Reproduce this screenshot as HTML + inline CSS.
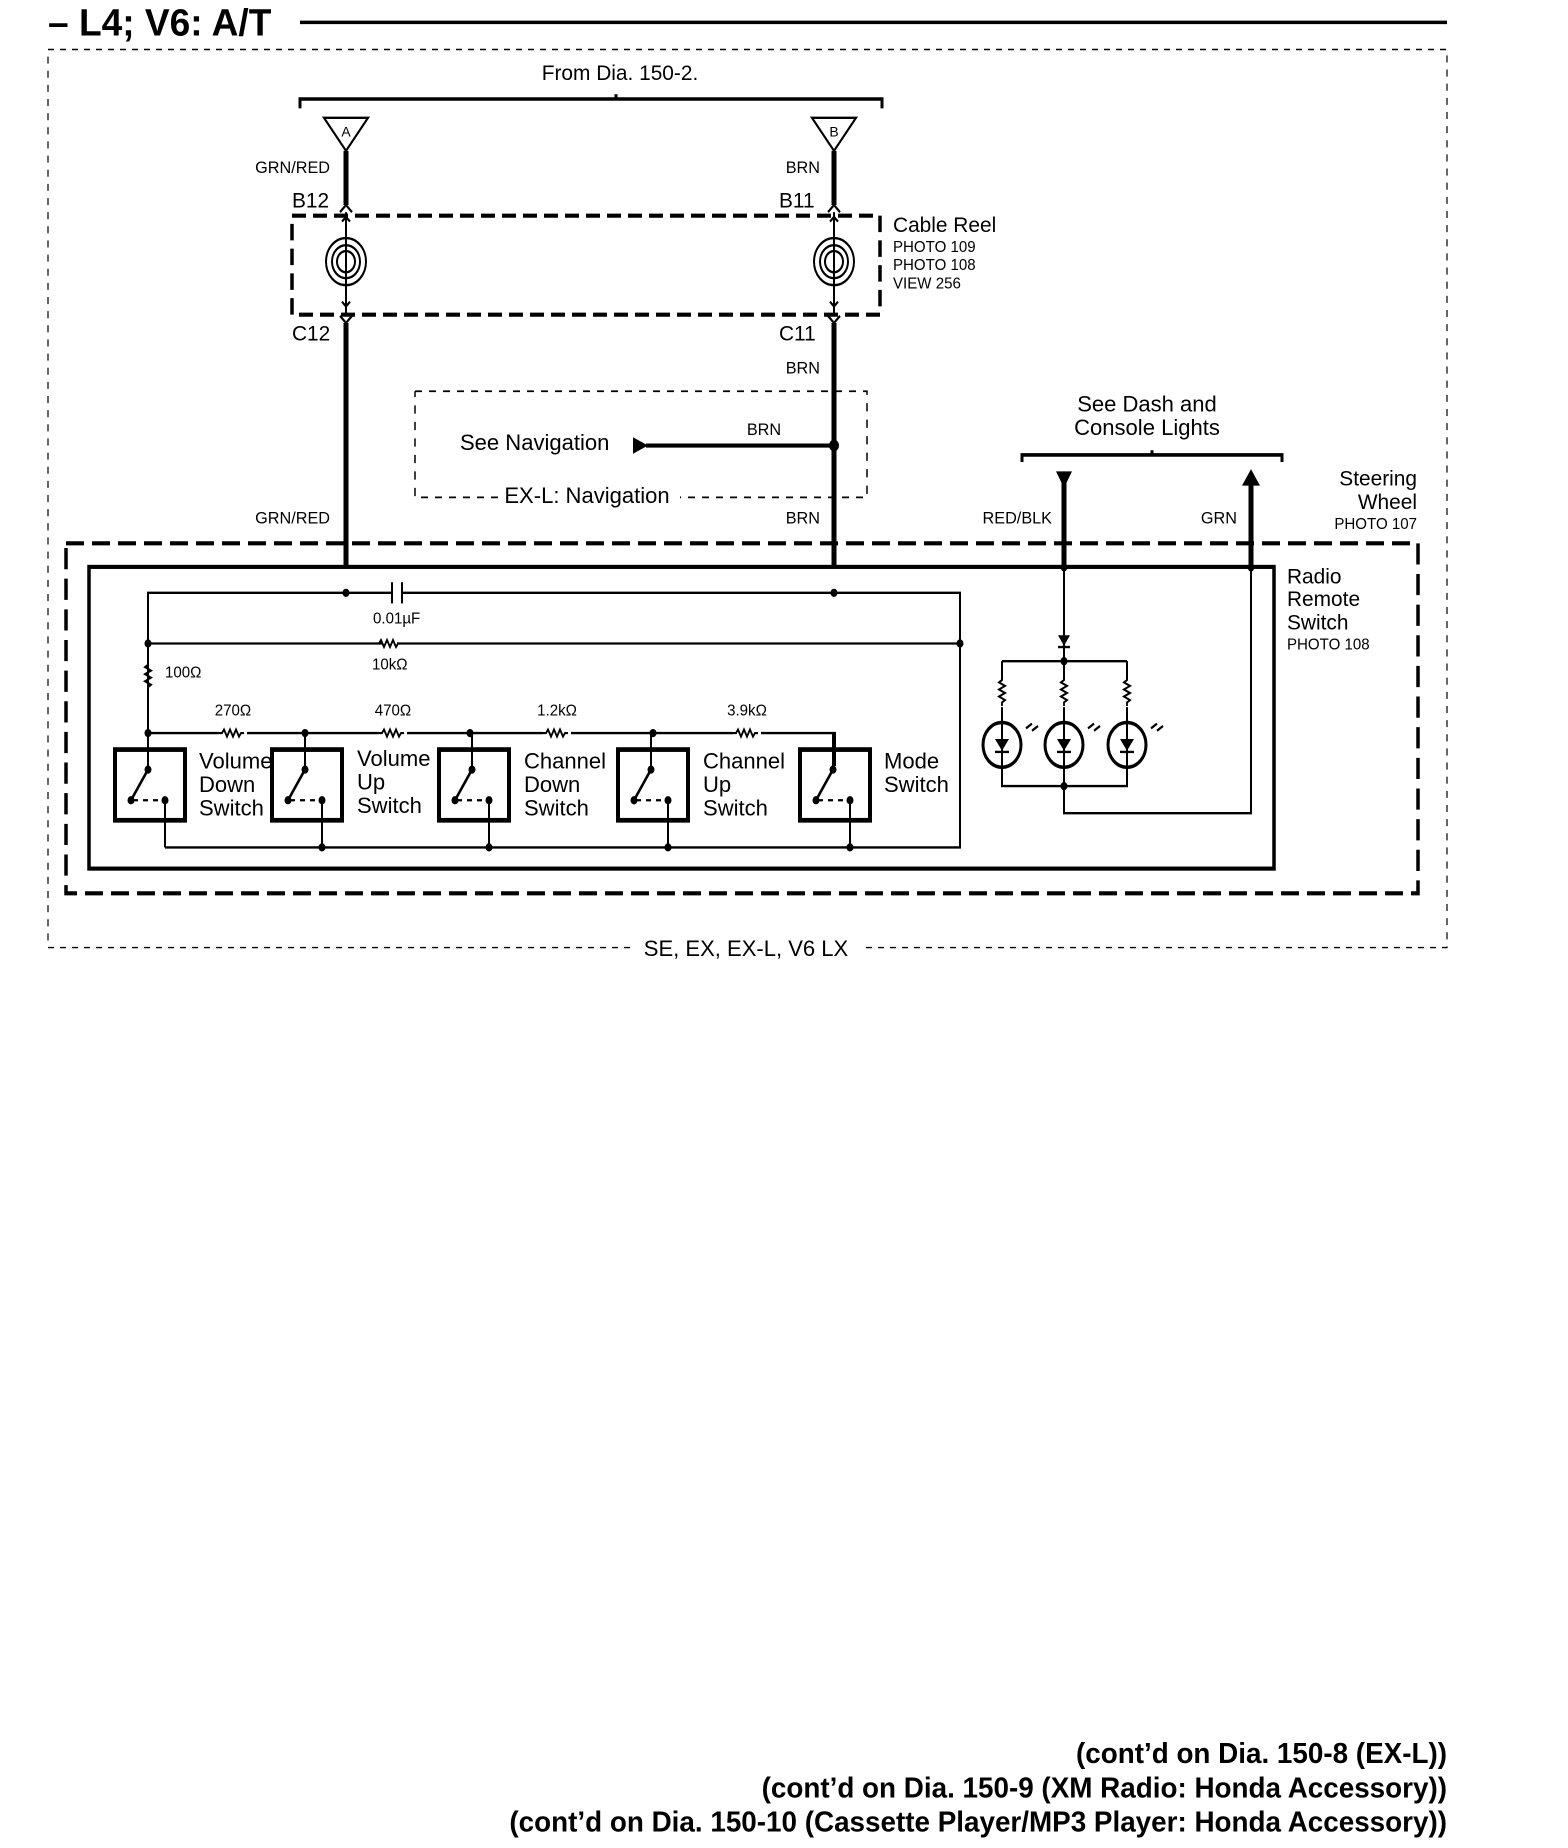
<!DOCTYPE html>
<html><head><meta charset="utf-8"><style>
html,body{margin:0;padding:0;background:#fff}
svg{display:block}
text{font-family:"Liberation Sans",Arial,sans-serif;fill:#000}
</style></head><body>
<svg id="s" width="1568" height="1848" viewBox="0 0 1568 1568" preserveAspectRatio="none" xmlns="http://www.w3.org/2000/svg">
<defs>
<g id="sw">
<rect x="0" y="0" width="70" height="60" fill="none" stroke="#000" stroke-width="4"/>
<line x1="33" y1="-14" x2="33" y2="17" stroke="#000" stroke-width="2"/>
<line x1="33" y1="17" x2="16" y2="43" stroke="#000" stroke-width="2.5"/>
<line x1="18" y1="43" x2="50" y2="43" stroke="#000" stroke-width="2" stroke-dasharray="5,5"/>
<circle cx="33" cy="17" r="3.5"/><circle cx="16" cy="43" r="3.5"/><circle cx="50" cy="43" r="3.5"/>
<line x1="50" y1="43" x2="50" y2="83" stroke="#000" stroke-width="2"/>
</g>
<g id="resH"><path d="M-14,0 h3 l2,-3 l3,6 l3,-6 l3,6 l3,-6 l3,6 l2,-3 h3" fill="none" stroke="#000" stroke-width="1.8"/></g>
<g id="resV"><path d="M0,-14 v3 l-3,2 l6,3 l-6,3 l6,3 l-6,3 l6,3 l-3,2 v3" fill="none" stroke="#000" stroke-width="1.8"/></g>
<g id="led">
<circle cx="0" cy="0" r="19" fill="none" stroke="#000" stroke-width="3"/>
<line x1="0" y1="-19" x2="0" y2="19" stroke="#000" stroke-width="2"/>
<path d="M-7,-5 h14 l-7,10 z"/><line x1="-7" y1="6" x2="7" y2="6" stroke="#000" stroke-width="2"/>
<path d="M24,-14 l6,-4 M30,-12 l6,-4" stroke="#000" stroke-width="2"/>
</g>
</defs>

<text x="48" y="30" font-size="32" font-weight="bold">– L4; V6: A/T</text>
<line x1="300" y1="19" x2="1447" y2="19" stroke="#000" stroke-width="3"/>

<path d="M48,42 H1447 V804 H862 M630,804 H48 V42" fill="none" stroke="#000" stroke-width="1.2" stroke-dasharray="6,6"/>
<text x="746" y="811" font-size="19" text-anchor="middle">SE, EX, EX-L, V6 LX</text>

<text x="620" y="68" font-size="18" text-anchor="middle">From Dia. 150-2.</text>
<path d="M300,92 V84 H882 V92 M616,84 V80" fill="none" stroke="#000" stroke-width="3"/>
<path d="M324,100 H368 L346,128 Z" fill="none" stroke="#000" stroke-width="2"/>
<text x="346" y="116" font-size="12" text-anchor="middle">A</text>
<path d="M812,100 H856 L834,128 Z" fill="none" stroke="#000" stroke-width="2"/>
<text x="834" y="116" font-size="12" text-anchor="middle">B</text>
<text x="330" y="147" font-size="14" text-anchor="end">GRN/RED</text>
<text x="820" y="147" font-size="14" text-anchor="end">BRN</text>
<text x="292" y="176" font-size="18">B12</text>
<text x="779" y="176" font-size="18">B11</text>
<g stroke="#000" stroke-width="5" fill="none">
<line x1="346" y1="128" x2="346" y2="174"/><line x1="834" y1="128" x2="834" y2="174"/>
<line x1="346" y1="274" x2="346" y2="482"/><line x1="834" y1="274" x2="834" y2="482"/>
</g>
<g stroke="#000" stroke-width="2" fill="none">
<path d="M340,180 L346,174 L352,180"/><path d="M828,180 L834,174 L840,180"/>
<path d="M340,268 L346,274 L352,268"/><path d="M828,268 L834,274 L840,268"/>
<line x1="346" y1="180" x2="346" y2="268"/><line x1="834" y1="180" x2="834" y2="268"/>
<path d="M342,188 l4,-4 l4,4 M342,256 l4,4 l4,-4 M830,188 l4,-4 l4,4 M830,256 l4,4 l4,-4"/>
</g>
<rect x="292" y="183" width="588" height="84" fill="none" stroke="#000" stroke-width="3.5" stroke-dasharray="14,7"/>
<g fill="none" stroke="#000" stroke-width="2">
<circle cx="346" cy="222" r="20"/><circle cx="346" cy="222" r="14"/><circle cx="346" cy="222" r="9"/>
<circle cx="834" cy="222" r="20"/><circle cx="834" cy="222" r="14"/><circle cx="834" cy="222" r="9"/>
</g>
<text x="893" y="197" font-size="18">Cable Reel</text>
<text x="893" y="214" font-size="13">PHOTO 109</text>
<text x="893" y="229" font-size="13">PHOTO 108</text>
<text x="893" y="245" font-size="13">VIEW 256</text>
<text x="292" y="289" font-size="18">C12</text>
<text x="779" y="289" font-size="18">C11</text>
<text x="820" y="317" font-size="14" text-anchor="end">BRN</text>

<path d="M415,332 H867 V422 H680 M498,422 H415 V332" fill="none" stroke="#000" stroke-width="1.5" stroke-dasharray="7,7"/>
<text x="460" y="382" font-size="19">See Navigation</text>
<text x="587" y="427" font-size="19" text-anchor="middle">EX-L: Navigation</text>
<path d="M633,371 L648,378 L633,385 Z"/>
<line x1="646" y1="378" x2="834" y2="378" stroke="#000" stroke-width="3.5"/>
<circle cx="834" cy="378" r="5"/>
<text x="764" y="369" font-size="14" text-anchor="middle">BRN</text>

<text x="330" y="444" font-size="14" text-anchor="end">GRN/RED</text>
<text x="820" y="444" font-size="14" text-anchor="end">BRN</text>

<text x="1147" y="349" font-size="19" text-anchor="middle">See Dash and</text>
<text x="1147" y="369" font-size="19" text-anchor="middle">Console Lights</text>
<path d="M1022,392 V386 H1282 V392 M1152,386 V382" fill="none" stroke="#000" stroke-width="3"/>
<text x="1052" y="444" font-size="14" text-anchor="end">RED/BLK</text>
<text x="1237" y="444" font-size="14" text-anchor="end">GRN</text>
<line x1="1064" y1="405" x2="1064" y2="482" stroke="#000" stroke-width="5"/>
<path d="M1056,400 H1072 L1064,414 Z"/>
<line x1="1251" y1="410" x2="1251" y2="482" stroke="#000" stroke-width="5"/>
<path d="M1242,412 L1251,398 L1260,412 Z"/>
<text x="1417" y="412" font-size="18" text-anchor="end">Steering</text>
<text x="1417" y="432" font-size="18" text-anchor="end">Wheel</text>
<text x="1417" y="449" font-size="13" text-anchor="end">PHOTO 107</text>

<rect x="66" y="461" width="1352" height="297" fill="none" stroke="#000" stroke-width="3.5" stroke-dasharray="18,8"/>
<rect x="89" y="481" width="1185" height="256" fill="none" stroke="#000" stroke-width="3.5"/>
<text x="1287" y="495" font-size="18">Radio</text>
<text x="1287" y="514" font-size="18">Remote</text>
<text x="1287" y="534" font-size="18">Switch</text>
<text x="1287" y="551" font-size="13">PHOTO 108</text>

<g stroke="#000" stroke-width="2" fill="none">
<path d="M148,622 V503 H392 M402,503 H960 V719 H165"/>
<line x1="392" y1="494" x2="392" y2="512"/><line x1="402" y1="494" x2="402" y2="512"/>
<path d="M148,546 H383 M397,546 H960"/>
<path d="M148,588 V622"/>
<path d="M148,622 H219 M247,622 H379 M407,622 H543 M571,622 H733 M761,622 H835 V650"/>
</g>
<use href="#resH" x="390" y="546"/>
<use href="#resV" x="148" y="575"/>
<use href="#resH" x="233" y="622"/><use href="#resH" x="393" y="622"/>
<use href="#resH" x="557" y="622"/><use href="#resH" x="747" y="622"/>
<circle cx="346" cy="503" r="3.5"/><circle cx="834" cy="503" r="3.5"/>
<circle cx="148" cy="546" r="3.5"/><circle cx="960" cy="546" r="3.5"/>
<circle cx="148" cy="622" r="3.5"/><circle cx="305" cy="622" r="3.5"/><circle cx="470" cy="622" r="3.5"/><circle cx="653" cy="622" r="3.5"/>
<text x="373" y="529" font-size="13">0.01µF</text>
<text x="372" y="568" font-size="13">10kΩ</text>
<text x="165" y="575" font-size="13">100Ω</text>
<text x="233" y="607" font-size="13" text-anchor="middle">270Ω</text>
<text x="393" y="607" font-size="13" text-anchor="middle">470Ω</text>
<text x="557" y="607" font-size="13" text-anchor="middle">1.2kΩ</text>
<text x="747" y="607" font-size="13" text-anchor="middle">3.9kΩ</text>

<use href="#sw" x="115" y="636"/>
<use href="#sw" x="272" y="636"/>
<use href="#sw" x="439" y="636"/>
<use href="#sw" x="618" y="636"/>
<use href="#sw" x="800" y="636"/>
<circle cx="322" cy="719" r="3.5"/><circle cx="489" cy="719" r="3.5"/><circle cx="668" cy="719" r="3.5"/><circle cx="850" cy="719" r="3.5"/>

<g font-size="19">
<text x="199" y="652">Volume</text><text x="199" y="672">Down</text><text x="199" y="692">Switch</text>
<text x="357" y="650">Volume</text><text x="357" y="670">Up</text><text x="357" y="690">Switch</text>
<text x="524" y="652">Channel</text><text x="524" y="672">Down</text><text x="524" y="692">Switch</text>
<text x="703" y="652">Channel</text><text x="703" y="672">Up</text><text x="703" y="692">Switch</text>
<text x="884" y="652">Mode</text><text x="884" y="672">Switch</text>
</g>

<g stroke="#000" stroke-width="2" fill="none">
<path d="M1064,482 V561 M1002,561 H1127"/>
<path d="M1002,561 V577 M1002,600 V613 M1064,561 V577 M1064,600 V613 M1127,561 V577 M1127,600 V613"/>
<path d="M1002,651 V667 H1127 V651 M1064,651 V690 H1251 V482"/>
</g>
<path d="M1058,539 H1070 L1064,548 Z"/><line x1="1058" y1="549" x2="1070" y2="549" stroke="#000" stroke-width="2"/>
<use href="#resV" x="1002" y="588"/><use href="#resV" x="1064" y="588"/><use href="#resV" x="1127" y="588"/>
<use href="#led" x="1002" y="632"/><use href="#led" x="1064" y="632"/><use href="#led" x="1127" y="632"/>
<circle cx="1064" cy="561" r="3.5"/><circle cx="1064" cy="667" r="3.5"/><circle cx="1064" cy="482" r="3"/><circle cx="1251" cy="482" r="3"/>

<g font-size="24" font-weight="bold" text-anchor="end">
<text x="1447" y="1496">(cont’d on Dia.  150-8 (EX-L))</text>
<text x="1447" y="1525">(cont’d on Dia.  150-9 (XM Radio: Honda Accessory))</text>
<text x="1447" y="1554">(cont’d on Dia.  150-10 (Cassette Player/MP3 Player: Honda Accessory))</text>
</g>
</svg>
<script>
document.querySelectorAll('#s text').forEach(function(t){
  var x=parseFloat(t.getAttribute('x'));
  t.setAttribute('transform','translate('+x+',0) scale(1.16,1) translate('+(-x)+',0)');
});
</script>
</body></html>
